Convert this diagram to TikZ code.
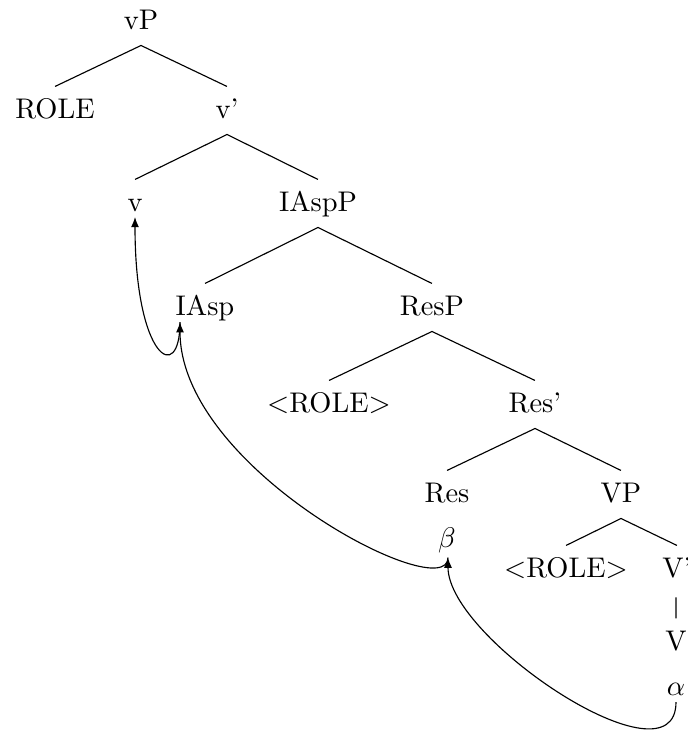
\documentclass[tikz,border=0pt]{standalone}
\usetikzlibrary{arrows.meta}
\begin{document}
\begin{tikzpicture}[x=0.352pt,y=-0.352pt,
  tn/.style={anchor=base,inner sep=0pt,text height=10.9pt,text depth=5.6pt},
  lbl/.style={anchor=base,inner sep=0pt},
  edge/.style={line width=0.4pt},
  mv/.style={-{Latex[length=3.6pt,width=2.8pt]},line width=0.4pt}]
\useasboundingbox (0,0) rectangle (688,736);
% nodes
\node[tn] (vP) at (141,29) {vP};
\node[tn] (ROLE) at (55,118) {ROLE};
\node[tn] (vbar) at (227,118) {v'};
\node[tn] (v) at (135,211) {v};
\node[tn] (IAspP) at (318,211) {IAspP};
\node[tn] (IAsp) at (205,315) {IAsp};
\node[tn] (ResP) at (432,315) {ResP};
\node[tn] (role1) at (329,412) {$<$ROLE$>$};
\node[tn] (Resbar) at (535,412) {Res'};
\node[tn] (Res) at (447,502) {Res};
\node[tn] (VP) at (621,502) {VP};
\node[lbl] (beta) at (447,547.6) {$\beta$};
\node[tn] (role2) at (566,577) {$<$ROLE$>$};
\node[tn] (Vbar) at (677,577) {V'};
\node[tn] (V) at (676,650) {V};
\node[lbl] (alpha) at (676,695) {$\alpha$};
% edges
\draw[edge] (vP.south) -- (ROLE.north);
\draw[edge] (vP.south) -- (vbar.north);
\draw[edge] (vbar.south) -- (v.north);
\draw[edge] (vbar.south) -- (IAspP.north);
\draw[edge] (IAspP.south) -- (IAsp.north);
\draw[edge] (IAspP.south) -- (ResP.north);
\draw[edge] (ResP.south) -- (role1.north);
\draw[edge] (ResP.south) -- (Resbar.north);
\draw[edge] (Resbar.south) -- (Res.north);
\draw[edge] (Resbar.south) -- (VP.north);
\draw[edge] (VP.south) -- (role2.north);
\draw[edge] (VP.south) -- (Vbar.north);
\draw[edge] ([xshift=-0.35pt,yshift=-1.4pt]Vbar.south) -- ([xshift=0pt]V.north);
% movement arrows
\draw[mv] ([yshift=-2.5pt]alpha.base) .. controls +(0,88) and +(0,82) .. ([xshift=0.35pt,yshift=-3.5pt]beta.base);
\draw[mv] ([xshift=0.35pt,yshift=-3.5pt]beta.base) .. controls +(0,50) and +(0,148) .. ([xshift=-8.8pt,yshift=-2.5pt]IAsp.base);
\draw[mv] ([xshift=-8.8pt,yshift=-2.5pt]IAsp.base) .. controls +(0,63) and +(0,143) .. ([yshift=-2.1pt]v.base);
\end{tikzpicture}
\end{document}
